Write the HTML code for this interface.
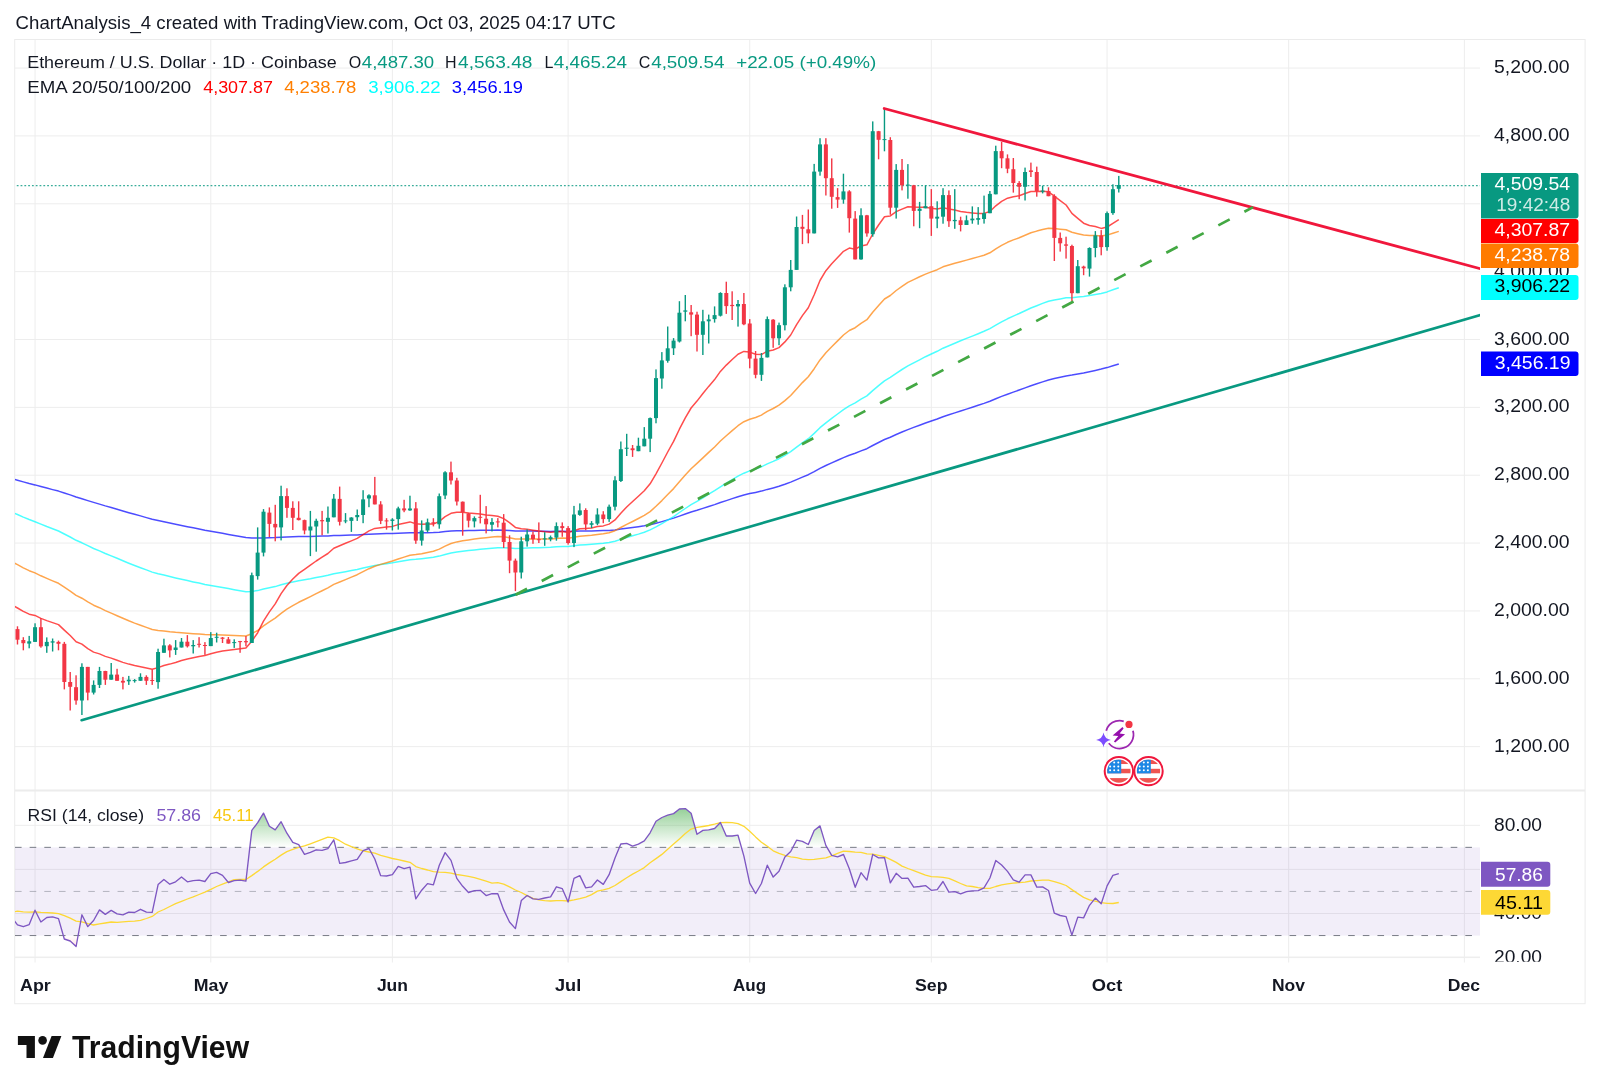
<!DOCTYPE html>
<html><head><meta charset="utf-8"><title>ETH/USD Chart</title>
<style>html,body{margin:0;padding:0;background:#fff;width:1600px;height:1092px;overflow:hidden}</style>
</head><body>
<svg width="1600" height="1092" viewBox="0 0 1600 1092" style="display:block;will-change:transform">
<defs>
<clipPath id="cm"><rect x="15" y="40" width="1465" height="750"/></clipPath>
<clipPath id="cr"><rect x="15" y="791.5" width="1465" height="165.5"/></clipPath>
<linearGradient id="gob" gradientUnits="userSpaceOnUse" x1="0" y1="781.2" x2="0" y2="847.35"><stop offset="0" stop-color="#4caf50" stop-opacity="1"/><stop offset="1" stop-color="#4caf50" stop-opacity="0"/></linearGradient>
<linearGradient id="gos" gradientUnits="userSpaceOnUse" x1="0" y1="935.5500000000001" x2="0" y2="1001.7"><stop offset="0" stop-color="#ff5252" stop-opacity="0"/><stop offset="1" stop-color="#ff5252" stop-opacity="1"/></linearGradient>
</defs>
<rect width="1600" height="1092" fill="#ffffff"/>
<rect x="14.7" y="39.5" width="1570.4" height="964.2" fill="#ffffff" stroke="#ebebeb" stroke-width="1"/>
<g stroke="#ededed" stroke-width="1"><line x1="15" y1="746.65" x2="1480" y2="746.65"/><line x1="15" y1="678.79" x2="1480" y2="678.79"/><line x1="15" y1="610.93" x2="1480" y2="610.93"/><line x1="15" y1="543.07" x2="1480" y2="543.07"/><line x1="15" y1="475.21" x2="1480" y2="475.21"/><line x1="15" y1="407.35" x2="1480" y2="407.35"/><line x1="15" y1="339.49" x2="1480" y2="339.49"/><line x1="15" y1="271.63" x2="1480" y2="271.63"/><line x1="15" y1="203.77" x2="1480" y2="203.77"/><line x1="15" y1="135.91" x2="1480" y2="135.91"/><line x1="15" y1="68.05" x2="1480" y2="68.05"/><line x1="15" y1="825.30" x2="1480" y2="825.30"/><line x1="15" y1="869.40" x2="1480" y2="869.40"/><line x1="15" y1="913.50" x2="1480" y2="913.50"/><line x1="15" y1="957.60" x2="1480" y2="957.60"/><line x1="35.05" y1="40" x2="35.05" y2="962.5"/><line x1="210.79" y1="40" x2="210.79" y2="962.5"/><line x1="392.39" y1="40" x2="392.39" y2="962.5"/><line x1="568.13" y1="40" x2="568.13" y2="962.5"/><line x1="749.73" y1="40" x2="749.73" y2="962.5"/><line x1="931.32" y1="40" x2="931.32" y2="962.5"/><line x1="1107.06" y1="40" x2="1107.06" y2="962.5"/><line x1="1288.66" y1="40" x2="1288.66" y2="962.5"/><line x1="1464.40" y1="40" x2="1464.40" y2="962.5"/></g>
<rect x="15" y="789.5" width="1570" height="2" fill="#ececec"/>
<line x1="15" y1="957" x2="1480" y2="957" stroke="#eeeeee" stroke-width="1"/>
<g clip-path="url(#cm)">
<path d="M11.6,478.6 L17.5,480.2 L23.3,481.9 L29.2,483.5 L35.0,484.9 L40.9,486.5 L46.8,488.0 L52.6,489.6 L58.5,491.1 L64.3,493.0 L70.2,494.9 L76.1,497.0 L81.9,498.7 L87.8,500.6 L93.6,502.4 L99.5,504.1 L105.3,505.9 L111.2,507.5 L117.1,509.3 L122.9,511.0 L128.8,512.7 L134.6,514.3 L140.5,515.9 L146.4,517.6 L152.2,519.2 L158.1,520.5 L163.9,521.8 L169.8,523.1 L175.6,524.3 L181.5,525.5 L187.4,526.7 L193.2,527.8 L199.1,529.0 L204.9,530.2 L210.8,531.2 L216.6,532.3 L222.5,533.3 L228.4,534.4 L234.2,535.5 L240.1,536.6 L245.9,537.6 L251.8,538.0 L257.7,538.1 L263.5,537.9 L269.4,537.7 L275.2,537.6 L281.1,537.2 L286.9,536.9 L292.8,536.7 L298.7,536.6 L304.5,536.5 L310.4,536.4 L316.2,536.3 L322.1,536.1 L327.9,535.9 L333.8,535.6 L339.7,535.4 L345.5,535.3 L351.4,535.1 L357.2,534.9 L363.1,534.5 L369.0,534.2 L374.8,533.9 L380.7,533.7 L386.5,533.6 L392.4,533.5 L398.2,533.2 L404.1,533.0 L410.0,532.7 L415.8,532.8 L421.7,532.8 L427.5,532.7 L433.4,532.6 L439.3,532.2 L445.1,531.6 L451.0,531.1 L456.8,530.8 L462.7,530.7 L468.5,530.6 L474.4,530.4 L480.3,530.3 L486.1,530.2 L492.0,530.2 L497.8,530.1 L503.7,530.2 L509.5,530.5 L515.4,530.9 L521.3,531.0 L527.1,531.1 L533.0,531.1 L538.8,531.2 L544.7,531.3 L550.6,531.4 L556.4,531.3 L562.3,531.3 L568.1,531.4 L574.0,531.2 L579.8,531.0 L585.7,530.9 L591.6,530.9 L597.4,530.7 L603.3,530.6 L609.1,530.4 L615.0,529.9 L620.8,529.1 L626.7,528.2 L632.6,527.5 L638.4,526.7 L644.3,525.8 L650.1,524.7 L656.0,523.3 L661.9,521.6 L667.7,519.9 L673.6,518.1 L679.4,516.1 L685.3,514.0 L691.1,512.0 L697.0,510.3 L702.9,508.4 L708.7,506.5 L714.6,504.6 L720.4,502.5 L726.3,500.6 L732.2,498.6 L738.0,496.7 L743.9,495.0 L749.7,493.6 L755.6,492.4 L761.4,491.1 L767.3,489.4 L773.2,487.9 L779.0,486.3 L784.9,484.3 L790.7,482.1 L796.6,479.6 L802.4,477.1 L808.3,474.7 L814.2,471.7 L820.0,468.4 L825.9,465.5 L831.7,462.9 L837.6,460.2 L843.5,457.6 L849.3,455.2 L855.2,453.2 L861.0,450.9 L866.9,448.7 L872.7,445.5 L878.6,442.5 L884.5,439.5 L890.3,437.2 L896.2,434.5 L902.0,432.0 L907.9,429.6 L913.7,427.4 L919.6,425.2 L925.5,423.0 L931.3,421.0 L937.2,419.0 L943.0,416.7 L948.9,414.8 L954.8,412.9 L960.6,411.0 L966.5,409.1 L972.3,407.2 L978.2,405.3 L984.0,403.4 L989.9,401.3 L995.8,398.8 L1001.6,396.4 L1007.5,394.2 L1013.3,392.1 L1019.2,390.0 L1025.1,387.9 L1030.9,385.7 L1036.8,383.8 L1042.6,381.9 L1048.5,380.0 L1054.3,378.6 L1060.2,377.2 L1066.1,375.9 L1071.9,375.1 L1077.8,374.0 L1083.6,373.0 L1089.5,371.7 L1095.3,370.4 L1101.2,369.1 L1107.1,367.6 L1112.9,365.8 L1118.8,364.0" fill="none" stroke="#0000ff" stroke-opacity="0.7" stroke-width="1.5" stroke-linejoin="round"/>
<path d="M11.6,512.0 L17.5,514.5 L23.3,517.1 L29.2,519.5 L35.0,521.7 L40.9,524.1 L46.8,526.5 L52.6,528.7 L58.5,531.0 L64.3,534.0 L70.2,537.0 L76.1,540.3 L81.9,542.8 L87.8,545.7 L93.6,548.5 L99.5,550.9 L105.3,553.5 L111.2,555.9 L117.1,558.3 L122.9,560.8 L128.8,563.2 L134.6,565.5 L140.5,567.7 L146.4,569.9 L152.2,572.1 L158.1,573.7 L163.9,575.1 L169.8,576.6 L175.6,578.0 L181.5,579.3 L187.4,580.6 L193.2,581.9 L199.1,583.1 L204.9,584.4 L210.8,585.4 L216.6,586.4 L222.5,587.5 L228.4,588.6 L234.2,589.7 L240.1,590.7 L245.9,591.7 L251.8,591.4 L257.7,590.6 L263.5,589.0 L269.4,587.8 L275.2,586.6 L281.1,584.8 L286.9,583.2 L292.8,582.0 L298.7,580.7 L304.5,579.7 L310.4,578.7 L316.2,577.5 L322.1,576.4 L327.9,575.3 L333.8,573.7 L339.7,572.7 L345.5,571.7 L351.4,570.6 L357.2,569.5 L363.1,568.1 L369.0,566.7 L374.8,565.4 L380.7,564.6 L386.5,563.7 L392.4,562.8 L398.2,561.7 L404.1,560.7 L410.0,559.7 L415.8,559.3 L421.7,558.7 L427.5,558.0 L433.4,557.3 L439.3,556.1 L445.1,554.5 L451.0,553.0 L456.8,552.0 L462.7,551.2 L468.5,550.6 L474.4,550.0 L480.3,549.3 L486.1,548.8 L492.0,548.3 L497.8,547.8 L503.7,547.7 L509.5,547.9 L515.4,548.4 L521.3,548.3 L527.1,548.0 L533.0,547.8 L538.8,547.7 L544.7,547.5 L550.6,547.3 L556.4,546.8 L562.3,546.5 L568.1,546.4 L574.0,545.8 L579.8,545.1 L585.7,544.7 L591.6,544.2 L597.4,543.7 L603.3,543.2 L609.1,542.4 L615.0,541.2 L620.8,539.4 L626.7,537.6 L632.6,535.8 L638.4,534.1 L644.3,532.2 L650.1,529.9 L656.0,526.9 L661.9,523.6 L667.7,520.1 L673.6,516.6 L679.4,512.5 L685.3,508.5 L691.1,504.7 L697.0,501.3 L702.9,497.8 L708.7,494.2 L714.6,490.7 L720.4,486.8 L726.3,483.2 L732.2,479.7 L738.0,476.2 L743.9,473.2 L749.7,470.9 L755.6,469.0 L761.4,466.8 L767.3,463.9 L773.2,461.4 L779.0,458.7 L784.9,455.3 L790.7,451.7 L796.6,447.2 L802.4,442.9 L808.3,438.7 L814.2,433.4 L820.0,427.7 L825.9,422.8 L831.7,418.3 L837.6,414.0 L843.5,409.6 L849.3,405.8 L855.2,402.9 L861.0,399.2 L866.9,395.9 L872.7,390.6 L878.6,385.7 L884.5,380.8 L890.3,377.4 L896.2,373.3 L902.0,369.5 L907.9,365.9 L913.7,362.8 L919.6,359.8 L925.5,356.7 L931.3,354.0 L937.2,351.3 L943.0,348.2 L948.9,345.7 L954.8,343.2 L960.6,340.8 L966.5,338.4 L972.3,336.1 L978.2,333.7 L984.0,331.3 L989.9,328.6 L995.8,325.1 L1001.6,321.8 L1007.5,318.8 L1013.3,316.1 L1019.2,313.5 L1025.1,310.7 L1030.9,308.0 L1036.8,305.7 L1042.6,303.4 L1048.5,301.3 L1054.3,300.0 L1060.2,298.9 L1066.1,297.8 L1071.9,297.7 L1077.8,297.1 L1083.6,296.5 L1089.5,295.6 L1095.3,294.4 L1101.2,293.4 L1107.1,291.9 L1112.9,289.8 L1118.8,287.7" fill="none" stroke="#00ffff" stroke-opacity="0.7" stroke-width="1.5" stroke-linejoin="round"/>
<path d="M11.6,561.7 L17.5,564.7 L23.3,567.8 L29.2,570.7 L35.0,572.9 L40.9,575.8 L46.8,578.4 L52.6,580.9 L58.5,583.3 L64.3,587.2 L70.2,591.1 L76.1,595.4 L81.9,598.2 L87.8,601.9 L93.6,605.2 L99.5,607.7 L105.3,610.6 L111.2,613.1 L117.1,615.7 L122.9,618.3 L128.8,620.8 L134.6,623.1 L140.5,625.2 L146.4,627.4 L152.2,629.5 L158.1,630.4 L163.9,630.9 L169.8,631.7 L175.6,632.3 L181.5,632.7 L187.4,633.2 L193.2,633.7 L199.1,634.1 L204.9,634.6 L210.8,634.7 L216.6,634.8 L222.5,634.9 L228.4,635.3 L234.2,635.6 L240.1,635.8 L245.9,636.0 L251.8,633.7 L257.7,630.5 L263.5,625.8 L269.4,621.8 L275.2,618.1 L281.1,613.3 L286.9,609.2 L292.8,605.6 L298.7,602.3 L304.5,599.5 L310.4,596.6 L316.2,593.6 L322.1,590.8 L327.9,587.9 L333.8,584.4 L339.7,582.0 L345.5,579.6 L351.4,577.1 L357.2,574.7 L363.1,571.7 L369.0,568.7 L374.8,566.2 L380.7,564.4 L386.5,562.7 L392.4,561.0 L398.2,559.0 L404.1,557.1 L410.0,555.2 L415.8,554.6 L421.7,553.7 L427.5,552.4 L433.4,551.3 L439.3,549.1 L445.1,546.1 L451.0,543.5 L456.8,541.9 L462.7,540.7 L468.5,539.9 L474.4,539.1 L480.3,538.2 L486.1,537.7 L492.0,537.1 L497.8,536.5 L503.7,536.7 L509.5,537.7 L515.4,539.0 L521.3,539.1 L527.1,538.9 L533.0,538.9 L538.8,539.0 L544.7,539.0 L550.6,538.9 L556.4,538.4 L562.3,538.0 L568.1,538.2 L574.0,537.2 L579.8,536.2 L585.7,535.7 L591.6,535.2 L597.4,534.4 L603.3,533.8 L609.1,532.8 L615.0,530.7 L620.8,527.5 L626.7,524.4 L632.6,521.5 L638.4,518.5 L644.3,515.4 L650.1,511.6 L656.0,506.3 L661.9,500.6 L667.7,494.6 L673.6,488.6 L679.4,481.7 L685.3,475.0 L691.1,468.7 L697.0,463.4 L702.9,457.9 L708.7,452.4 L714.6,447.0 L720.4,441.0 L726.3,435.7 L732.2,430.6 L738.0,425.7 L743.9,421.7 L749.7,419.2 L755.6,417.5 L761.4,415.1 L767.3,411.4 L773.2,408.5 L779.0,405.2 L784.9,400.6 L790.7,395.5 L796.6,388.9 L802.4,382.6 L808.3,376.8 L814.2,368.7 L820.0,359.9 L825.9,352.8 L831.7,346.7 L837.6,340.9 L843.5,335.0 L849.3,330.5 L855.2,327.7 L861.0,323.3 L866.9,319.7 L872.7,312.3 L878.6,305.6 L884.5,299.0 L890.3,295.5 L896.2,290.5 L902.0,286.4 L907.9,282.4 L913.7,279.6 L919.6,276.8 L925.5,274.1 L931.3,271.9 L937.2,269.7 L943.0,266.8 L948.9,265.0 L954.8,263.2 L960.6,261.7 L966.5,260.1 L972.3,258.5 L978.2,256.9 L984.0,255.2 L989.9,252.8 L995.8,248.8 L1001.6,245.3 L1007.5,242.3 L1013.3,239.9 L1019.2,237.8 L1025.1,235.3 L1030.9,232.8 L1036.8,231.1 L1042.6,229.6 L1048.5,228.2 L1054.3,228.6 L1060.2,229.2 L1066.1,229.8 L1071.9,232.3 L1077.8,233.7 L1083.6,235.0 L1089.5,235.5 L1095.3,235.5 L1101.2,236.0 L1107.1,235.1 L1112.9,233.3 L1118.8,231.4" fill="none" stroke="#ff7f00" stroke-opacity="0.7" stroke-width="1.5" stroke-linejoin="round"/>
<path d="M11.6,604.6 L17.5,608.0 L23.3,611.3 L29.2,614.2 L35.0,615.4 L40.9,618.4 L46.8,620.6 L52.6,622.6 L58.5,624.6 L64.3,630.1 L70.2,635.5 L76.1,641.7 L81.9,644.1 L87.8,648.7 L93.6,652.1 L99.5,653.9 L105.3,656.4 L111.2,658.1 L117.1,660.3 L122.9,662.4 L128.8,664.1 L134.6,665.6 L140.5,666.7 L146.4,668.0 L152.2,669.2 L158.1,667.6 L163.9,665.5 L169.8,664.1 L175.6,662.5 L181.5,660.5 L187.4,659.1 L193.2,657.8 L199.1,656.5 L204.9,655.5 L210.8,653.8 L216.6,652.2 L222.5,650.9 L228.4,650.2 L234.2,649.5 L240.1,648.7 L245.9,648.1 L251.8,641.2 L257.7,632.7 L263.5,621.2 L269.4,611.9 L275.2,603.9 L281.1,593.6 L286.9,585.5 L292.8,579.0 L298.7,573.4 L304.5,569.3 L310.4,565.2 L316.2,561.0 L322.1,557.2 L327.9,553.5 L333.8,548.3 L339.7,545.7 L345.5,543.3 L351.4,540.9 L357.2,538.4 L363.1,534.7 L369.0,530.9 L374.8,528.4 L380.7,527.7 L386.5,527.1 L392.4,526.4 L398.2,524.6 L404.1,523.3 L410.0,521.9 L415.8,523.7 L421.7,524.3 L427.5,524.1 L433.4,524.1 L439.3,521.4 L445.1,516.7 L451.0,513.3 L456.8,512.2 L462.7,512.2 L468.5,513.0 L474.4,513.5 L480.3,513.9 L486.1,514.9 L492.0,515.5 L497.8,516.2 L503.7,518.6 L509.5,522.6 L515.4,527.4 L521.3,528.7 L527.1,529.3 L533.0,530.2 L538.8,531.1 L544.7,531.8 L550.6,532.3 L556.4,531.7 L562.3,531.4 L568.1,532.5 L574.0,530.8 L579.8,528.8 L585.7,528.4 L591.6,527.9 L597.4,526.6 L603.3,525.9 L609.1,524.1 L615.0,519.9 L620.8,513.2 L626.7,507.0 L632.6,501.5 L638.4,496.2 L644.3,490.8 L650.1,483.8 L656.0,473.8 L661.9,463.0 L667.7,452.0 L673.6,441.4 L679.4,429.2 L685.3,417.9 L691.1,408.0 L697.0,401.1 L702.9,393.5 L708.7,386.4 L714.6,379.6 L720.4,371.4 L726.3,365.1 L732.2,359.5 L738.0,354.2 L743.9,351.4 L749.7,352.1 L755.6,354.2 L761.4,354.6 L767.3,351.2 L773.2,350.0 L779.0,347.6 L784.9,341.9 L790.7,335.0 L796.6,324.7 L802.4,315.6 L808.3,307.8 L814.2,294.8 L820.0,280.5 L825.9,270.7 L831.7,263.7 L837.6,257.6 L843.5,251.3 L849.3,248.1 L855.2,249.2 L861.0,246.0 L866.9,244.8 L872.7,234.0 L878.6,225.0 L884.5,216.8 L890.3,215.9 L896.2,211.6 L902.0,209.1 L907.9,206.7 L913.7,207.1 L919.6,207.3 L925.5,207.2 L931.3,208.3 L937.2,209.1 L943.0,207.7 L948.9,209.0 L954.8,210.1 L960.6,211.5 L966.5,212.3 L972.3,212.9 L978.2,213.4 L984.0,213.4 L989.9,211.5 L995.8,205.8 L1001.6,201.3 L1007.5,198.2 L1013.3,196.7 L1019.2,195.8 L1025.1,193.5 L1030.9,191.5 L1036.8,191.4 L1042.6,191.3 L1048.5,191.8 L1054.3,196.2 L1060.2,200.7 L1066.1,205.0 L1071.9,213.4 L1077.8,218.4 L1083.6,223.2 L1089.5,225.5 L1095.3,226.5 L1101.2,228.4 L1107.1,227.0 L1112.9,223.4 L1118.8,219.7" fill="none" stroke="#ff0000" stroke-opacity="0.7" stroke-width="1.5" stroke-linejoin="round"/>
<line x1="15" y1="185.7" x2="1480" y2="185.7" stroke="#089981" stroke-opacity="0.8" stroke-width="1.2" stroke-dasharray="1.8 2.0" stroke-dashoffset="-1.76"/>
<rect x="16.78" y="626.3" width="1.4" height="18.2" fill="#f23645"/>
<rect x="15.48" y="629.1" width="4" height="10.6" fill="#f23645"/>
<rect x="22.63" y="637.2" width="1.4" height="13.1" fill="#f23645"/>
<rect x="21.33" y="640.0" width="4" height="3.2" fill="#f23645"/>
<rect x="28.49" y="635.9" width="1.4" height="12.4" fill="#089981"/>
<rect x="27.19" y="641.3" width="4" height="2.3" fill="#089981"/>
<rect x="34.35" y="623.3" width="1.4" height="18.6" fill="#089981"/>
<rect x="33.05" y="627.2" width="4" height="14.7" fill="#089981"/>
<rect x="40.21" y="618.0" width="1.4" height="29.7" fill="#f23645"/>
<rect x="38.91" y="627.2" width="4" height="19.2" fill="#f23645"/>
<rect x="46.07" y="637.4" width="1.4" height="15.4" fill="#089981"/>
<rect x="44.77" y="641.9" width="4" height="4.3" fill="#089981"/>
<rect x="51.92" y="638.5" width="1.4" height="13.0" fill="#089981"/>
<rect x="50.62" y="641.3" width="4" height="1.3" fill="#089981"/>
<rect x="57.78" y="640.6" width="1.4" height="9.7" fill="#f23645"/>
<rect x="56.48" y="641.9" width="4" height="1.9" fill="#f23645"/>
<rect x="63.64" y="641.9" width="1.4" height="47.5" fill="#f23645"/>
<rect x="62.34" y="643.8" width="4" height="38.2" fill="#f23645"/>
<rect x="69.50" y="672.0" width="1.4" height="38.5" fill="#f23645"/>
<rect x="68.20" y="682.0" width="4" height="4.8" fill="#f23645"/>
<rect x="75.36" y="675.3" width="1.4" height="29.4" fill="#f23645"/>
<rect x="74.06" y="687.2" width="4" height="13.3" fill="#f23645"/>
<rect x="81.21" y="663.3" width="1.4" height="51.7" fill="#089981"/>
<rect x="79.91" y="666.9" width="4" height="33.6" fill="#089981"/>
<rect x="87.07" y="666.9" width="1.4" height="33.4" fill="#f23645"/>
<rect x="85.77" y="666.9" width="4" height="25.7" fill="#f23645"/>
<rect x="92.93" y="680.4" width="1.4" height="14.1" fill="#089981"/>
<rect x="91.63" y="684.9" width="4" height="7.7" fill="#089981"/>
<rect x="98.79" y="666.9" width="1.4" height="21.1" fill="#089981"/>
<rect x="97.49" y="671.0" width="4" height="13.9" fill="#089981"/>
<rect x="104.65" y="670.8" width="1.4" height="14.1" fill="#f23645"/>
<rect x="103.35" y="671.0" width="4" height="8.7" fill="#f23645"/>
<rect x="110.50" y="663.0" width="1.4" height="16.7" fill="#089981"/>
<rect x="109.20" y="674.6" width="4" height="5.1" fill="#089981"/>
<rect x="116.36" y="668.8" width="1.4" height="12.0" fill="#f23645"/>
<rect x="115.06" y="674.6" width="4" height="6.2" fill="#f23645"/>
<rect x="122.22" y="676.9" width="1.4" height="12.5" fill="#f23645"/>
<rect x="120.92" y="680.8" width="4" height="1.8" fill="#f23645"/>
<rect x="128.08" y="675.9" width="1.4" height="9.0" fill="#089981"/>
<rect x="126.78" y="679.7" width="4" height="1.6" fill="#089981"/>
<rect x="133.94" y="679.1" width="1.4" height="3.5" fill="#089981"/>
<rect x="132.64" y="680.1" width="4" height="1.0" fill="#089981"/>
<rect x="139.79" y="673.3" width="1.4" height="7.5" fill="#089981"/>
<rect x="138.49" y="676.9" width="4" height="3.9" fill="#089981"/>
<rect x="145.65" y="675.3" width="1.4" height="9.6" fill="#f23645"/>
<rect x="144.35" y="676.9" width="4" height="3.9" fill="#f23645"/>
<rect x="151.51" y="669.5" width="1.4" height="15.4" fill="#f23645"/>
<rect x="150.21" y="680.0" width="4" height="1.0" fill="#f23645"/>
<rect x="157.37" y="648.7" width="1.4" height="40.0" fill="#089981"/>
<rect x="156.07" y="652.0" width="4" height="30.1" fill="#089981"/>
<rect x="163.23" y="638.7" width="1.4" height="14.1" fill="#089981"/>
<rect x="161.93" y="645.4" width="4" height="7.4" fill="#089981"/>
<rect x="169.08" y="644.2" width="1.4" height="13.2" fill="#f23645"/>
<rect x="167.78" y="645.4" width="4" height="5.0" fill="#f23645"/>
<rect x="174.94" y="640.1" width="1.4" height="14.8" fill="#089981"/>
<rect x="173.64" y="647.5" width="4" height="2.5" fill="#089981"/>
<rect x="180.80" y="638.0" width="1.4" height="9.5" fill="#089981"/>
<rect x="179.50" y="641.7" width="4" height="5.8" fill="#089981"/>
<rect x="186.66" y="635.1" width="1.4" height="12.4" fill="#f23645"/>
<rect x="185.36" y="641.7" width="4" height="4.6" fill="#f23645"/>
<rect x="192.52" y="640.1" width="1.4" height="13.4" fill="#089981"/>
<rect x="191.22" y="645.0" width="4" height="1.3" fill="#089981"/>
<rect x="198.37" y="637.2" width="1.4" height="10.3" fill="#f23645"/>
<rect x="197.07" y="643.8" width="4" height="1.0" fill="#f23645"/>
<rect x="204.23" y="642.1" width="1.4" height="12.8" fill="#f23645"/>
<rect x="202.93" y="645.0" width="4" height="1.0" fill="#f23645"/>
<rect x="210.09" y="632.1" width="1.4" height="14.0" fill="#089981"/>
<rect x="208.79" y="638.0" width="4" height="8.1" fill="#089981"/>
<rect x="215.95" y="632.7" width="1.4" height="9.8" fill="#089981"/>
<rect x="214.65" y="636.8" width="4" height="1.0" fill="#089981"/>
<rect x="221.81" y="637.0" width="1.4" height="6.0" fill="#f23645"/>
<rect x="220.51" y="637.6" width="4" height="1.2" fill="#f23645"/>
<rect x="227.66" y="637.0" width="1.4" height="6.6" fill="#f23645"/>
<rect x="226.36" y="639.3" width="4" height="4.3" fill="#f23645"/>
<rect x="233.52" y="639.3" width="1.4" height="8.6" fill="#089981"/>
<rect x="232.22" y="642.1" width="4" height="1.0" fill="#089981"/>
<rect x="239.38" y="640.9" width="1.4" height="11.9" fill="#f23645"/>
<rect x="238.08" y="641.1" width="4" height="1.0" fill="#f23645"/>
<rect x="245.24" y="636.0" width="1.4" height="10.3" fill="#f23645"/>
<rect x="243.94" y="641.1" width="4" height="1.2" fill="#f23645"/>
<rect x="251.10" y="572.6" width="1.4" height="70.4" fill="#089981"/>
<rect x="249.80" y="575.2" width="4" height="67.8" fill="#089981"/>
<rect x="256.95" y="527.4" width="1.4" height="52.2" fill="#089981"/>
<rect x="255.65" y="552.6" width="4" height="23.5" fill="#089981"/>
<rect x="262.81" y="509.1" width="1.4" height="47.3" fill="#089981"/>
<rect x="261.51" y="511.7" width="4" height="40.9" fill="#089981"/>
<rect x="268.67" y="507.4" width="1.4" height="29.6" fill="#f23645"/>
<rect x="267.37" y="512.6" width="4" height="11.3" fill="#f23645"/>
<rect x="274.53" y="504.8" width="1.4" height="36.5" fill="#f23645"/>
<rect x="273.23" y="523.9" width="4" height="3.5" fill="#f23645"/>
<rect x="280.39" y="485.7" width="1.4" height="54.7" fill="#089981"/>
<rect x="279.09" y="496.1" width="4" height="31.3" fill="#089981"/>
<rect x="286.24" y="488.3" width="1.4" height="29.5" fill="#f23645"/>
<rect x="284.94" y="496.1" width="4" height="11.8" fill="#f23645"/>
<rect x="292.10" y="501.3" width="1.4" height="28.7" fill="#f23645"/>
<rect x="290.80" y="507.9" width="4" height="9.9" fill="#f23645"/>
<rect x="297.96" y="501.3" width="1.4" height="19.1" fill="#f23645"/>
<rect x="296.66" y="517.8" width="4" height="2.3" fill="#f23645"/>
<rect x="303.82" y="519.6" width="1.4" height="14.7" fill="#f23645"/>
<rect x="302.52" y="520.1" width="4" height="10.4" fill="#f23645"/>
<rect x="309.68" y="510.9" width="1.4" height="45.2" fill="#089981"/>
<rect x="308.38" y="526.5" width="4" height="4.0" fill="#089981"/>
<rect x="315.53" y="518.7" width="1.4" height="33.0" fill="#089981"/>
<rect x="314.23" y="520.8" width="4" height="5.7" fill="#089981"/>
<rect x="321.39" y="510.9" width="1.4" height="24.3" fill="#f23645"/>
<rect x="320.09" y="520.1" width="4" height="1.2" fill="#f23645"/>
<rect x="327.25" y="506.5" width="1.4" height="27.0" fill="#089981"/>
<rect x="325.95" y="517.8" width="4" height="4.0" fill="#089981"/>
<rect x="333.11" y="494.0" width="1.4" height="23.3" fill="#089981"/>
<rect x="331.81" y="498.7" width="4" height="18.6" fill="#089981"/>
<rect x="338.97" y="486.6" width="1.4" height="38.9" fill="#f23645"/>
<rect x="337.67" y="498.9" width="4" height="22.9" fill="#f23645"/>
<rect x="344.82" y="513.1" width="1.4" height="10.1" fill="#089981"/>
<rect x="343.52" y="520.4" width="4" height="1.0" fill="#089981"/>
<rect x="350.68" y="517.2" width="1.4" height="14.7" fill="#089981"/>
<rect x="349.38" y="517.5" width="4" height="3.4" fill="#089981"/>
<rect x="356.54" y="509.5" width="1.4" height="11.4" fill="#089981"/>
<rect x="355.24" y="515.0" width="4" height="2.2" fill="#089981"/>
<rect x="362.40" y="490.2" width="1.4" height="33.0" fill="#089981"/>
<rect x="361.10" y="499.4" width="4" height="15.6" fill="#089981"/>
<rect x="368.26" y="494.3" width="1.4" height="12.9" fill="#089981"/>
<rect x="366.96" y="495.3" width="4" height="3.2" fill="#089981"/>
<rect x="374.11" y="476.9" width="1.4" height="27.5" fill="#f23645"/>
<rect x="372.81" y="495.3" width="4" height="9.1" fill="#f23645"/>
<rect x="379.97" y="501.2" width="1.4" height="22.9" fill="#f23645"/>
<rect x="378.67" y="504.4" width="4" height="16.5" fill="#f23645"/>
<rect x="385.83" y="518.2" width="1.4" height="11.4" fill="#f23645"/>
<rect x="384.53" y="520.4" width="4" height="1.0" fill="#f23645"/>
<rect x="391.69" y="518.2" width="1.4" height="12.3" fill="#089981"/>
<rect x="390.39" y="519.5" width="4" height="1.4" fill="#089981"/>
<rect x="397.55" y="506.7" width="1.4" height="22.9" fill="#089981"/>
<rect x="396.25" y="508.4" width="4" height="10.7" fill="#089981"/>
<rect x="403.40" y="499.8" width="1.4" height="12.4" fill="#f23645"/>
<rect x="402.10" y="508.4" width="4" height="2.0" fill="#f23645"/>
<rect x="409.26" y="495.7" width="1.4" height="15.1" fill="#089981"/>
<rect x="407.96" y="508.5" width="4" height="1.9" fill="#089981"/>
<rect x="415.12" y="502.1" width="1.4" height="41.7" fill="#f23645"/>
<rect x="413.82" y="508.4" width="4" height="32.2" fill="#f23645"/>
<rect x="420.98" y="520.4" width="1.4" height="25.2" fill="#089981"/>
<rect x="419.68" y="530.5" width="4" height="10.1" fill="#089981"/>
<rect x="426.84" y="518.6" width="1.4" height="13.7" fill="#089981"/>
<rect x="425.54" y="522.3" width="4" height="8.2" fill="#089981"/>
<rect x="432.69" y="518.2" width="1.4" height="8.2" fill="#f23645"/>
<rect x="431.39" y="522.3" width="4" height="1.3" fill="#f23645"/>
<rect x="438.55" y="493.5" width="1.4" height="35.2" fill="#089981"/>
<rect x="437.25" y="496.2" width="4" height="28.1" fill="#089981"/>
<rect x="444.41" y="471.2" width="1.4" height="27.9" fill="#089981"/>
<rect x="443.11" y="472.3" width="4" height="23.2" fill="#089981"/>
<rect x="450.27" y="461.6" width="1.4" height="22.9" fill="#f23645"/>
<rect x="448.97" y="472.3" width="4" height="8.2" fill="#f23645"/>
<rect x="456.13" y="477.8" width="1.4" height="27.7" fill="#f23645"/>
<rect x="454.83" y="480.5" width="4" height="21.0" fill="#f23645"/>
<rect x="461.98" y="501.5" width="1.4" height="34.2" fill="#f23645"/>
<rect x="460.68" y="501.7" width="4" height="10.4" fill="#f23645"/>
<rect x="467.84" y="512.8" width="1.4" height="14.6" fill="#f23645"/>
<rect x="466.54" y="513.4" width="4" height="7.3" fill="#f23645"/>
<rect x="473.70" y="516.4" width="1.4" height="11.0" fill="#089981"/>
<rect x="472.40" y="518.1" width="4" height="3.3" fill="#089981"/>
<rect x="479.56" y="494.8" width="1.4" height="28.6" fill="#f23645"/>
<rect x="478.26" y="516.8" width="4" height="1.0" fill="#f23645"/>
<rect x="485.42" y="506.1" width="1.4" height="27.3" fill="#f23645"/>
<rect x="484.12" y="518.7" width="4" height="5.6" fill="#f23645"/>
<rect x="491.27" y="518.1" width="1.4" height="13.3" fill="#089981"/>
<rect x="489.97" y="522.1" width="4" height="2.6" fill="#089981"/>
<rect x="497.13" y="518.1" width="1.4" height="9.3" fill="#f23645"/>
<rect x="495.83" y="521.4" width="4" height="1.0" fill="#f23645"/>
<rect x="502.99" y="514.1" width="1.4" height="33.9" fill="#f23645"/>
<rect x="501.69" y="522.7" width="4" height="19.3" fill="#f23645"/>
<rect x="508.85" y="535.3" width="1.4" height="37.9" fill="#f23645"/>
<rect x="507.55" y="542.0" width="4" height="18.6" fill="#f23645"/>
<rect x="514.71" y="558.6" width="1.4" height="32.5" fill="#f23645"/>
<rect x="513.41" y="560.6" width="4" height="11.9" fill="#f23645"/>
<rect x="520.56" y="536.7" width="1.4" height="41.8" fill="#089981"/>
<rect x="519.26" y="541.3" width="4" height="31.2" fill="#089981"/>
<rect x="526.42" y="529.4" width="1.4" height="17.2" fill="#089981"/>
<rect x="525.12" y="534.5" width="4" height="6.8" fill="#089981"/>
<rect x="532.28" y="531.4" width="1.4" height="12.4" fill="#f23645"/>
<rect x="530.98" y="534.7" width="4" height="4.5" fill="#f23645"/>
<rect x="538.14" y="522.4" width="1.4" height="20.6" fill="#f23645"/>
<rect x="536.84" y="539.2" width="4" height="1.0" fill="#f23645"/>
<rect x="544.00" y="532.2" width="1.4" height="13.6" fill="#089981"/>
<rect x="542.70" y="538.4" width="4" height="1.0" fill="#089981"/>
<rect x="549.85" y="535.5" width="1.4" height="5.8" fill="#089981"/>
<rect x="548.55" y="537.2" width="4" height="2.0" fill="#089981"/>
<rect x="555.71" y="522.4" width="1.4" height="18.3" fill="#089981"/>
<rect x="554.41" y="526.1" width="4" height="11.5" fill="#089981"/>
<rect x="561.57" y="522.4" width="1.4" height="14.4" fill="#f23645"/>
<rect x="560.27" y="526.1" width="4" height="2.0" fill="#f23645"/>
<rect x="567.43" y="526.1" width="1.4" height="18.5" fill="#f23645"/>
<rect x="566.13" y="528.1" width="4" height="14.9" fill="#f23645"/>
<rect x="573.29" y="505.9" width="1.4" height="41.2" fill="#089981"/>
<rect x="571.99" y="514.5" width="4" height="28.5" fill="#089981"/>
<rect x="579.14" y="503.4" width="1.4" height="12.4" fill="#089981"/>
<rect x="577.84" y="510.4" width="4" height="4.5" fill="#089981"/>
<rect x="585.00" y="508.3" width="1.4" height="21.9" fill="#f23645"/>
<rect x="583.70" y="510.0" width="4" height="14.4" fill="#f23645"/>
<rect x="590.86" y="521.1" width="1.4" height="7.0" fill="#089981"/>
<rect x="589.56" y="523.2" width="4" height="1.6" fill="#089981"/>
<rect x="596.72" y="508.3" width="1.4" height="16.9" fill="#089981"/>
<rect x="595.42" y="514.5" width="4" height="9.1" fill="#089981"/>
<rect x="602.58" y="511.2" width="1.4" height="12.0" fill="#f23645"/>
<rect x="601.28" y="514.5" width="4" height="4.6" fill="#f23645"/>
<rect x="608.43" y="504.6" width="1.4" height="17.3" fill="#089981"/>
<rect x="607.13" y="506.7" width="4" height="12.4" fill="#089981"/>
<rect x="614.29" y="476.2" width="1.4" height="34.2" fill="#089981"/>
<rect x="612.99" y="480.3" width="4" height="26.4" fill="#089981"/>
<rect x="620.15" y="441.5" width="1.4" height="40.5" fill="#089981"/>
<rect x="618.85" y="449.2" width="4" height="31.8" fill="#089981"/>
<rect x="626.01" y="433.8" width="1.4" height="22.2" fill="#089981"/>
<rect x="624.71" y="447.7" width="4" height="1.1" fill="#089981"/>
<rect x="631.87" y="445.0" width="1.4" height="11.9" fill="#f23645"/>
<rect x="630.57" y="448.3" width="4" height="1.9" fill="#f23645"/>
<rect x="637.72" y="437.7" width="1.4" height="13.5" fill="#089981"/>
<rect x="636.42" y="445.8" width="4" height="5.4" fill="#089981"/>
<rect x="643.58" y="427.1" width="1.4" height="19.2" fill="#089981"/>
<rect x="642.28" y="438.7" width="4" height="7.6" fill="#089981"/>
<rect x="649.44" y="417.5" width="1.4" height="34.6" fill="#089981"/>
<rect x="648.14" y="418.1" width="4" height="20.6" fill="#089981"/>
<rect x="655.30" y="369.4" width="1.4" height="53.9" fill="#089981"/>
<rect x="654.00" y="378.1" width="4" height="40.0" fill="#089981"/>
<rect x="661.16" y="352.1" width="1.4" height="36.6" fill="#089981"/>
<rect x="659.86" y="360.4" width="4" height="18.1" fill="#089981"/>
<rect x="667.01" y="326.5" width="1.4" height="36.2" fill="#089981"/>
<rect x="665.71" y="348.3" width="4" height="12.5" fill="#089981"/>
<rect x="672.87" y="338.1" width="1.4" height="16.9" fill="#089981"/>
<rect x="671.57" y="340.6" width="4" height="7.7" fill="#089981"/>
<rect x="678.73" y="301.2" width="1.4" height="41.3" fill="#089981"/>
<rect x="677.43" y="312.7" width="4" height="28.8" fill="#089981"/>
<rect x="684.59" y="295.0" width="1.4" height="26.3" fill="#089981"/>
<rect x="683.29" y="310.4" width="4" height="1.3" fill="#089981"/>
<rect x="690.45" y="305.0" width="1.4" height="31.2" fill="#f23645"/>
<rect x="689.15" y="312.3" width="4" height="2.3" fill="#f23645"/>
<rect x="696.30" y="311.7" width="1.4" height="39.8" fill="#f23645"/>
<rect x="695.00" y="314.6" width="4" height="20.2" fill="#f23645"/>
<rect x="702.16" y="309.8" width="1.4" height="45.2" fill="#089981"/>
<rect x="700.86" y="321.3" width="4" height="13.5" fill="#089981"/>
<rect x="708.02" y="314.6" width="1.4" height="28.9" fill="#089981"/>
<rect x="706.72" y="319.4" width="4" height="1.9" fill="#089981"/>
<rect x="713.88" y="306.4" width="1.4" height="16.2" fill="#089981"/>
<rect x="712.58" y="315.1" width="4" height="4.0" fill="#089981"/>
<rect x="719.74" y="292.2" width="1.4" height="24.3" fill="#089981"/>
<rect x="718.44" y="293.0" width="4" height="22.7" fill="#089981"/>
<rect x="725.59" y="281.7" width="1.4" height="32.2" fill="#f23645"/>
<rect x="724.29" y="293.0" width="4" height="13.1" fill="#f23645"/>
<rect x="731.45" y="291.3" width="1.4" height="28.7" fill="#f23645"/>
<rect x="730.15" y="304.9" width="4" height="1.2" fill="#f23645"/>
<rect x="737.31" y="300.0" width="1.4" height="26.6" fill="#089981"/>
<rect x="736.01" y="304.0" width="4" height="2.4" fill="#089981"/>
<rect x="743.17" y="293.0" width="1.4" height="32.2" fill="#f23645"/>
<rect x="741.87" y="304.0" width="4" height="20.3" fill="#f23645"/>
<rect x="749.03" y="319.1" width="1.4" height="49.2" fill="#f23645"/>
<rect x="747.73" y="323.5" width="4" height="35.1" fill="#f23645"/>
<rect x="754.88" y="351.0" width="1.4" height="27.3" fill="#f23645"/>
<rect x="753.58" y="358.6" width="4" height="16.2" fill="#f23645"/>
<rect x="760.74" y="353.0" width="1.4" height="27.9" fill="#089981"/>
<rect x="759.44" y="357.9" width="4" height="16.9" fill="#089981"/>
<rect x="766.60" y="316.5" width="1.4" height="40.9" fill="#089981"/>
<rect x="765.30" y="319.1" width="4" height="38.3" fill="#089981"/>
<rect x="772.46" y="319.1" width="1.4" height="28.7" fill="#f23645"/>
<rect x="771.16" y="319.7" width="4" height="18.6" fill="#f23645"/>
<rect x="778.32" y="322.6" width="1.4" height="22.6" fill="#089981"/>
<rect x="777.02" y="325.2" width="4" height="13.1" fill="#089981"/>
<rect x="784.17" y="284.3" width="1.4" height="46.1" fill="#089981"/>
<rect x="782.87" y="287.3" width="4" height="37.9" fill="#089981"/>
<rect x="790.03" y="260.0" width="1.4" height="31.3" fill="#089981"/>
<rect x="788.73" y="269.9" width="4" height="17.4" fill="#089981"/>
<rect x="795.89" y="216.5" width="1.4" height="53.4" fill="#089981"/>
<rect x="794.59" y="227.0" width="4" height="42.9" fill="#089981"/>
<rect x="801.75" y="214.9" width="1.4" height="29.2" fill="#f23645"/>
<rect x="800.45" y="226.8" width="4" height="2.0" fill="#f23645"/>
<rect x="807.61" y="209.5" width="1.4" height="33.8" fill="#f23645"/>
<rect x="806.31" y="229.3" width="4" height="4.1" fill="#f23645"/>
<rect x="813.46" y="163.9" width="1.4" height="69.5" fill="#089981"/>
<rect x="812.16" y="171.6" width="4" height="61.8" fill="#089981"/>
<rect x="819.32" y="138.2" width="1.4" height="37.5" fill="#089981"/>
<rect x="818.02" y="144.4" width="4" height="27.2" fill="#089981"/>
<rect x="825.18" y="138.2" width="1.4" height="57.3" fill="#f23645"/>
<rect x="823.88" y="144.4" width="4" height="33.8" fill="#f23645"/>
<rect x="831.04" y="158.4" width="1.4" height="50.3" fill="#f23645"/>
<rect x="829.74" y="178.2" width="4" height="18.6" fill="#f23645"/>
<rect x="836.90" y="188.1" width="1.4" height="19.8" fill="#f23645"/>
<rect x="835.60" y="197.1" width="4" height="2.5" fill="#f23645"/>
<rect x="842.75" y="173.7" width="1.4" height="30.0" fill="#089981"/>
<rect x="841.45" y="191.4" width="4" height="8.2" fill="#089981"/>
<rect x="848.61" y="190.2" width="1.4" height="42.4" fill="#f23645"/>
<rect x="847.31" y="191.4" width="4" height="26.8" fill="#f23645"/>
<rect x="854.47" y="211.1" width="1.4" height="48.3" fill="#f23645"/>
<rect x="853.17" y="218.6" width="4" height="40.8" fill="#f23645"/>
<rect x="860.33" y="208.3" width="1.4" height="51.4" fill="#089981"/>
<rect x="859.03" y="215.3" width="4" height="44.1" fill="#089981"/>
<rect x="866.19" y="214.9" width="1.4" height="21.8" fill="#f23645"/>
<rect x="864.89" y="215.3" width="4" height="18.1" fill="#f23645"/>
<rect x="872.04" y="121.4" width="1.4" height="115.3" fill="#089981"/>
<rect x="870.74" y="131.2" width="4" height="103.0" fill="#089981"/>
<rect x="877.90" y="130.9" width="1.4" height="28.4" fill="#f23645"/>
<rect x="876.60" y="131.2" width="4" height="8.6" fill="#f23645"/>
<rect x="883.76" y="108.3" width="1.4" height="43.0" fill="#089981"/>
<rect x="882.46" y="139.1" width="4" height="1.0" fill="#089981"/>
<rect x="889.62" y="137.2" width="1.4" height="77.5" fill="#f23645"/>
<rect x="888.32" y="140.0" width="4" height="67.7" fill="#f23645"/>
<rect x="895.48" y="164.1" width="1.4" height="54.5" fill="#089981"/>
<rect x="894.18" y="169.9" width="4" height="37.8" fill="#089981"/>
<rect x="901.33" y="159.0" width="1.4" height="31.4" fill="#f23645"/>
<rect x="900.03" y="169.9" width="4" height="15.4" fill="#f23645"/>
<rect x="907.19" y="164.1" width="1.4" height="34.6" fill="#089981"/>
<rect x="905.89" y="184.6" width="4" height="1.0" fill="#089981"/>
<rect x="913.05" y="184.9" width="1.4" height="41.4" fill="#f23645"/>
<rect x="911.75" y="185.3" width="4" height="25.6" fill="#f23645"/>
<rect x="918.91" y="201.9" width="1.4" height="26.3" fill="#089981"/>
<rect x="917.61" y="208.7" width="4" height="2.2" fill="#089981"/>
<rect x="924.77" y="185.3" width="1.4" height="23.0" fill="#089981"/>
<rect x="923.47" y="206.2" width="4" height="2.1" fill="#089981"/>
<rect x="930.62" y="189.1" width="1.4" height="46.8" fill="#f23645"/>
<rect x="929.32" y="206.2" width="4" height="12.4" fill="#f23645"/>
<rect x="936.48" y="201.3" width="1.4" height="26.9" fill="#089981"/>
<rect x="935.18" y="216.7" width="4" height="1.9" fill="#089981"/>
<rect x="942.34" y="188.2" width="1.4" height="35.5" fill="#089981"/>
<rect x="941.04" y="195.1" width="4" height="21.6" fill="#089981"/>
<rect x="948.20" y="190.4" width="1.4" height="36.5" fill="#f23645"/>
<rect x="946.90" y="195.1" width="4" height="26.1" fill="#f23645"/>
<rect x="954.06" y="189.1" width="1.4" height="39.7" fill="#089981"/>
<rect x="952.76" y="219.9" width="4" height="1.3" fill="#089981"/>
<rect x="959.91" y="216.7" width="1.4" height="14.7" fill="#f23645"/>
<rect x="958.61" y="220.3" width="4" height="4.7" fill="#f23645"/>
<rect x="965.77" y="215.4" width="1.4" height="9.6" fill="#089981"/>
<rect x="964.47" y="220.3" width="4" height="4.7" fill="#089981"/>
<rect x="971.63" y="206.4" width="1.4" height="17.3" fill="#089981"/>
<rect x="970.33" y="218.6" width="4" height="1.7" fill="#089981"/>
<rect x="977.49" y="207.1" width="1.4" height="17.6" fill="#089981"/>
<rect x="976.19" y="218.1" width="4" height="1.7" fill="#089981"/>
<rect x="983.35" y="195.6" width="1.4" height="28.0" fill="#089981"/>
<rect x="982.05" y="213.2" width="4" height="5.8" fill="#089981"/>
<rect x="989.20" y="191.0" width="1.4" height="22.2" fill="#089981"/>
<rect x="987.90" y="193.9" width="4" height="19.3" fill="#089981"/>
<rect x="995.06" y="145.7" width="1.4" height="48.6" fill="#089981"/>
<rect x="993.76" y="151.1" width="4" height="43.2" fill="#089981"/>
<rect x="1000.92" y="141.9" width="1.4" height="26.3" fill="#f23645"/>
<rect x="999.62" y="151.1" width="4" height="7.2" fill="#f23645"/>
<rect x="1006.78" y="154.4" width="1.4" height="18.8" fill="#f23645"/>
<rect x="1005.48" y="158.3" width="4" height="10.4" fill="#f23645"/>
<rect x="1012.64" y="158.0" width="1.4" height="34.6" fill="#f23645"/>
<rect x="1011.34" y="169.2" width="4" height="13.8" fill="#f23645"/>
<rect x="1018.49" y="181.1" width="1.4" height="18.1" fill="#f23645"/>
<rect x="1017.19" y="183.0" width="4" height="3.8" fill="#f23645"/>
<rect x="1024.35" y="167.6" width="1.4" height="32.9" fill="#089981"/>
<rect x="1023.05" y="172.0" width="4" height="14.8" fill="#089981"/>
<rect x="1030.21" y="162.6" width="1.4" height="14.4" fill="#f23645"/>
<rect x="1028.91" y="170.4" width="4" height="1.6" fill="#f23645"/>
<rect x="1036.07" y="166.6" width="1.4" height="30.1" fill="#f23645"/>
<rect x="1034.77" y="172.0" width="4" height="19.0" fill="#f23645"/>
<rect x="1041.93" y="185.7" width="1.4" height="7.7" fill="#089981"/>
<rect x="1040.63" y="190.6" width="4" height="1.2" fill="#089981"/>
<rect x="1047.78" y="187.3" width="1.4" height="8.9" fill="#f23645"/>
<rect x="1046.48" y="191.0" width="4" height="5.2" fill="#f23645"/>
<rect x="1053.64" y="194.3" width="1.4" height="66.7" fill="#f23645"/>
<rect x="1052.34" y="195.9" width="4" height="42.0" fill="#f23645"/>
<rect x="1059.50" y="232.5" width="1.4" height="19.1" fill="#f23645"/>
<rect x="1058.20" y="237.9" width="4" height="5.4" fill="#f23645"/>
<rect x="1065.36" y="236.7" width="1.4" height="21.9" fill="#f23645"/>
<rect x="1064.06" y="244.4" width="4" height="1.3" fill="#f23645"/>
<rect x="1071.22" y="244.7" width="1.4" height="56.4" fill="#f23645"/>
<rect x="1069.92" y="246.0" width="4" height="47.2" fill="#f23645"/>
<rect x="1077.07" y="260.0" width="1.4" height="33.2" fill="#089981"/>
<rect x="1075.77" y="266.2" width="4" height="27.0" fill="#089981"/>
<rect x="1082.93" y="265.7" width="1.4" height="9.5" fill="#f23645"/>
<rect x="1081.63" y="266.6" width="4" height="1.7" fill="#f23645"/>
<rect x="1088.79" y="247.3" width="1.4" height="29.3" fill="#089981"/>
<rect x="1087.49" y="248.0" width="4" height="20.6" fill="#089981"/>
<rect x="1094.65" y="231.1" width="1.4" height="26.2" fill="#089981"/>
<rect x="1093.35" y="235.4" width="4" height="12.6" fill="#089981"/>
<rect x="1100.51" y="230.1" width="1.4" height="25.2" fill="#f23645"/>
<rect x="1099.21" y="235.4" width="4" height="11.7" fill="#f23645"/>
<rect x="1106.36" y="211.5" width="1.4" height="39.2" fill="#089981"/>
<rect x="1105.06" y="213.1" width="4" height="34.0" fill="#089981"/>
<rect x="1112.22" y="184.3" width="1.4" height="30.5" fill="#089981"/>
<rect x="1110.92" y="189.2" width="4" height="23.9" fill="#089981"/>
<rect x="1118.08" y="175.9" width="1.4" height="16.6" fill="#089981"/>
<rect x="1116.78" y="185.0" width="4" height="3.8" fill="#089981"/>
<line x1="81.6" y1="720.2" x2="1481" y2="314.9" stroke="#089981" stroke-width="2.7" stroke-linecap="round"/>
<line x1="884.2" y1="108.5" x2="1481" y2="268.9" stroke="#f0173c" stroke-width="2.8" stroke-linecap="round"/>
<line x1="515.7" y1="594.7" x2="1253.1" y2="207.1" stroke="#43a843" stroke-width="2.7" stroke-dasharray="12.8 16.6"/>
</g>
<g clip-path="url(#cr)">
<rect x="15" y="847.4" width="1465" height="88.2" fill="#7e57c2" fill-opacity="0.1"/>
<clipPath id="cob"><rect x="15" y="791.5" width="1465" height="55.9"/></clipPath>
<clipPath id="cos"><rect x="15" y="935.6" width="1465" height="21.4"/></clipPath>
<path d="M11.6,917.2 L17.5,924.8 L23.3,926.7 L29.2,924.6 L35.0,910.2 L40.9,922.0 L46.8,917.5 L52.6,916.9 L58.5,918.6 L64.3,939.0 L70.2,941.0 L76.1,946.5 L81.9,914.8 L87.8,926.6 L93.6,920.5 L99.5,909.9 L105.3,914.4 L111.2,910.4 L117.1,913.9 L122.9,914.9 L128.8,912.2 L134.6,912.5 L140.5,909.3 L146.4,912.2 L152.2,912.3 L158.1,884.6 L163.9,879.5 L169.8,884.2 L175.6,881.8 L181.5,876.9 L187.4,881.8 L193.2,880.6 L199.1,880.2 L204.9,881.5 L210.8,873.6 L216.6,872.4 L222.5,875.4 L228.4,882.5 L234.2,880.6 L240.1,880.1 L245.9,881.1 L251.8,830.4 L257.7,822.7 L263.5,813.1 L269.4,826.2 L275.2,829.9 L281.1,821.7 L286.9,833.2 L292.8,842.4 L298.7,844.6 L304.5,854.3 L310.4,852.4 L316.2,849.8 L322.1,850.3 L327.9,848.6 L333.8,839.8 L339.7,863.3 L345.5,862.5 L351.4,860.8 L357.2,859.4 L363.1,850.6 L369.0,848.5 L374.8,859.0 L380.7,875.7 L386.5,876.0 L392.4,874.7 L398.2,866.4 L404.1,868.7 L410.0,867.2 L415.8,898.9 L421.7,890.2 L427.5,883.6 L433.4,884.8 L439.3,865.2 L445.1,852.6 L451.0,860.4 L456.8,878.4 L462.7,886.3 L468.5,892.5 L474.4,890.6 L480.3,890.3 L486.1,895.6 L492.0,893.7 L497.8,893.7 L503.7,909.9 L509.5,922.0 L515.4,928.6 L521.3,900.6 L527.1,895.5 L533.0,898.8 L538.8,899.3 L544.7,898.0 L550.6,896.8 L556.4,886.8 L562.3,888.7 L568.1,902.0 L574.0,878.4 L579.8,875.6 L585.7,887.9 L591.6,886.9 L597.4,880.0 L603.3,884.4 L609.1,874.7 L615.0,858.1 L620.8,844.0 L626.7,843.4 L632.6,846.1 L638.4,844.1 L644.3,840.9 L650.1,832.8 L656.0,821.3 L661.9,817.5 L667.7,815.1 L673.6,813.6 L679.4,809.0 L685.3,808.6 L691.1,813.3 L697.0,834.3 L702.9,830.4 L708.7,829.8 L714.6,828.5 L720.4,822.5 L726.3,836.0 L732.2,836.0 L738.0,835.2 L743.9,856.1 L749.7,883.2 L755.6,893.5 L761.4,883.5 L767.3,865.2 L773.2,877.1 L779.0,871.3 L784.9,857.0 L790.7,851.5 L796.6,840.2 L802.4,841.4 L808.3,844.5 L814.2,830.5 L820.0,825.9 L825.9,845.6 L831.7,855.4 L837.6,856.8 L843.5,854.5 L849.3,868.8 L855.2,887.3 L861.0,872.7 L866.9,880.1 L872.7,854.5 L878.6,857.8 L884.5,857.7 L890.3,882.8 L896.2,873.3 L902.0,878.4 L907.9,878.2 L913.7,887.2 L919.6,886.5 L925.5,885.6 L931.3,890.3 L937.2,889.6 L943.0,881.5 L948.9,892.2 L954.8,891.6 L960.6,893.8 L966.5,891.6 L972.3,890.8 L978.2,890.6 L984.0,887.9 L989.9,878.0 L995.8,860.5 L1001.6,865.0 L1007.5,871.4 L1013.3,879.9 L1019.2,882.2 L1025.1,874.9 L1030.9,874.9 L1036.8,887.1 L1042.6,886.9 L1048.5,890.5 L1054.3,913.1 L1060.2,915.5 L1066.1,916.6 L1071.9,935.1 L1077.8,917.1 L1083.6,917.9 L1089.5,905.3 L1095.3,898.1 L1101.2,903.8 L1107.1,885.9 L1112.9,875.4 L1118.8,873.7 L1118.8,847.4 L11.6,847.4 Z" fill="url(#gob)" clip-path="url(#cob)"/>
<path d="M11.6,917.2 L17.5,924.8 L23.3,926.7 L29.2,924.6 L35.0,910.2 L40.9,922.0 L46.8,917.5 L52.6,916.9 L58.5,918.6 L64.3,939.0 L70.2,941.0 L76.1,946.5 L81.9,914.8 L87.8,926.6 L93.6,920.5 L99.5,909.9 L105.3,914.4 L111.2,910.4 L117.1,913.9 L122.9,914.9 L128.8,912.2 L134.6,912.5 L140.5,909.3 L146.4,912.2 L152.2,912.3 L158.1,884.6 L163.9,879.5 L169.8,884.2 L175.6,881.8 L181.5,876.9 L187.4,881.8 L193.2,880.6 L199.1,880.2 L204.9,881.5 L210.8,873.6 L216.6,872.4 L222.5,875.4 L228.4,882.5 L234.2,880.6 L240.1,880.1 L245.9,881.1 L251.8,830.4 L257.7,822.7 L263.5,813.1 L269.4,826.2 L275.2,829.9 L281.1,821.7 L286.9,833.2 L292.8,842.4 L298.7,844.6 L304.5,854.3 L310.4,852.4 L316.2,849.8 L322.1,850.3 L327.9,848.6 L333.8,839.8 L339.7,863.3 L345.5,862.5 L351.4,860.8 L357.2,859.4 L363.1,850.6 L369.0,848.5 L374.8,859.0 L380.7,875.7 L386.5,876.0 L392.4,874.7 L398.2,866.4 L404.1,868.7 L410.0,867.2 L415.8,898.9 L421.7,890.2 L427.5,883.6 L433.4,884.8 L439.3,865.2 L445.1,852.6 L451.0,860.4 L456.8,878.4 L462.7,886.3 L468.5,892.5 L474.4,890.6 L480.3,890.3 L486.1,895.6 L492.0,893.7 L497.8,893.7 L503.7,909.9 L509.5,922.0 L515.4,928.6 L521.3,900.6 L527.1,895.5 L533.0,898.8 L538.8,899.3 L544.7,898.0 L550.6,896.8 L556.4,886.8 L562.3,888.7 L568.1,902.0 L574.0,878.4 L579.8,875.6 L585.7,887.9 L591.6,886.9 L597.4,880.0 L603.3,884.4 L609.1,874.7 L615.0,858.1 L620.8,844.0 L626.7,843.4 L632.6,846.1 L638.4,844.1 L644.3,840.9 L650.1,832.8 L656.0,821.3 L661.9,817.5 L667.7,815.1 L673.6,813.6 L679.4,809.0 L685.3,808.6 L691.1,813.3 L697.0,834.3 L702.9,830.4 L708.7,829.8 L714.6,828.5 L720.4,822.5 L726.3,836.0 L732.2,836.0 L738.0,835.2 L743.9,856.1 L749.7,883.2 L755.6,893.5 L761.4,883.5 L767.3,865.2 L773.2,877.1 L779.0,871.3 L784.9,857.0 L790.7,851.5 L796.6,840.2 L802.4,841.4 L808.3,844.5 L814.2,830.5 L820.0,825.9 L825.9,845.6 L831.7,855.4 L837.6,856.8 L843.5,854.5 L849.3,868.8 L855.2,887.3 L861.0,872.7 L866.9,880.1 L872.7,854.5 L878.6,857.8 L884.5,857.7 L890.3,882.8 L896.2,873.3 L902.0,878.4 L907.9,878.2 L913.7,887.2 L919.6,886.5 L925.5,885.6 L931.3,890.3 L937.2,889.6 L943.0,881.5 L948.9,892.2 L954.8,891.6 L960.6,893.8 L966.5,891.6 L972.3,890.8 L978.2,890.6 L984.0,887.9 L989.9,878.0 L995.8,860.5 L1001.6,865.0 L1007.5,871.4 L1013.3,879.9 L1019.2,882.2 L1025.1,874.9 L1030.9,874.9 L1036.8,887.1 L1042.6,886.9 L1048.5,890.5 L1054.3,913.1 L1060.2,915.5 L1066.1,916.6 L1071.9,935.1 L1077.8,917.1 L1083.6,917.9 L1089.5,905.3 L1095.3,898.1 L1101.2,903.8 L1107.1,885.9 L1112.9,875.4 L1118.8,873.7 L1118.8,935.6 L11.6,935.6 Z" fill="url(#gos)" clip-path="url(#cos)"/>
<line x1="15" y1="847.35" x2="1480" y2="847.35" stroke="#787b86" stroke-width="1" stroke-dasharray="6.6 8.05"/>
<line x1="15" y1="891.45" x2="1480" y2="891.45" stroke="#787b86" stroke-opacity="0.5" stroke-width="1" stroke-dasharray="6.6 8.05"/>
<line x1="15" y1="935.55" x2="1480" y2="935.55" stroke="#787b86" stroke-width="1" stroke-dasharray="6.6 8.05"/>
<path d="M11.6,912.4 L17.5,911.2 L23.3,911.8 L29.2,912.2 L35.0,911.8 L40.9,912.3 L46.8,912.6 L52.6,913.0 L58.5,913.6 L64.3,915.7 L70.2,918.2 L76.1,921.1 L81.9,921.9 L87.8,923.6 L93.6,925.0 L99.5,923.9 L105.3,923.0 L111.2,922.0 L117.1,922.3 L122.9,921.8 L128.8,921.4 L134.6,921.1 L140.5,920.4 L146.4,918.5 L152.2,916.4 L158.1,912.0 L163.9,909.5 L169.8,906.5 L175.6,903.7 L181.5,901.3 L187.4,899.0 L193.2,896.9 L199.1,894.5 L204.9,892.1 L210.8,889.4 L216.6,886.5 L222.5,884.1 L228.4,881.9 L234.2,879.7 L240.1,879.4 L245.9,879.5 L251.8,875.6 L257.7,871.4 L263.5,866.9 L269.4,862.9 L275.2,859.3 L281.1,855.1 L286.9,851.6 L292.8,849.4 L298.7,847.4 L304.5,845.9 L310.4,843.8 L316.2,841.6 L322.1,839.4 L327.9,837.1 L333.8,837.8 L339.7,840.7 L345.5,844.2 L351.4,846.7 L357.2,848.8 L363.1,850.9 L369.0,852.0 L374.8,853.1 L380.7,855.4 L386.5,856.9 L392.4,858.5 L398.2,859.7 L404.1,861.0 L410.0,862.3 L415.8,866.6 L421.7,868.5 L427.5,870.0 L433.4,871.7 L439.3,872.1 L445.1,872.3 L451.0,873.1 L456.8,874.5 L462.7,875.3 L468.5,876.4 L474.4,877.6 L480.3,879.3 L486.1,881.2 L492.0,883.1 L497.8,882.7 L503.7,884.1 L509.5,886.9 L515.4,890.0 L521.3,892.5 L527.1,895.6 L533.0,898.3 L538.8,899.8 L544.7,900.7 L550.6,901.0 L556.4,900.7 L562.3,900.6 L568.1,901.0 L574.0,899.9 L579.8,898.6 L585.7,897.1 L591.6,894.6 L597.4,891.1 L603.3,889.9 L609.1,888.4 L615.0,885.5 L620.8,881.6 L626.7,877.7 L632.6,874.1 L638.4,871.0 L644.3,867.6 L650.1,862.7 L656.0,858.6 L661.9,854.4 L667.7,849.2 L673.6,844.0 L679.4,838.9 L685.3,833.5 L691.1,829.1 L697.0,827.4 L702.9,826.5 L708.7,825.5 L714.6,824.2 L720.4,822.7 L726.3,822.3 L732.2,822.6 L738.0,823.6 L743.9,826.3 L749.7,831.2 L755.6,836.9 L761.4,842.2 L767.3,846.3 L773.2,850.8 L779.0,853.4 L784.9,855.4 L790.7,856.9 L796.6,857.7 L802.4,859.1 L808.3,859.7 L814.2,859.3 L820.0,858.6 L825.9,857.9 L831.7,855.9 L837.6,853.3 L843.5,851.2 L849.3,851.5 L855.2,852.2 L861.0,852.3 L866.9,853.9 L872.7,854.2 L878.6,855.4 L884.5,856.6 L890.3,859.3 L896.2,862.4 L902.0,866.1 L907.9,868.5 L913.7,870.7 L919.6,872.8 L925.5,875.1 L931.3,876.6 L937.2,876.8 L943.0,877.4 L948.9,878.3 L954.8,880.9 L960.6,883.5 L966.5,885.9 L972.3,886.5 L978.2,887.7 L984.0,888.4 L989.9,888.4 L995.8,886.5 L1001.6,884.9 L1007.5,883.9 L1013.3,883.2 L1019.2,882.6 L1025.1,882.2 L1030.9,881.0 L1036.8,880.6 L1042.6,880.1 L1048.5,880.1 L1054.3,881.6 L1060.2,883.4 L1066.1,885.5 L1071.9,889.6 L1077.8,893.6 L1083.6,897.4 L1089.5,899.8 L1095.3,901.1 L1101.2,902.6 L1107.1,903.4 L1112.9,903.5 L1118.8,902.5" fill="none" stroke="#fdd835" stroke-width="1.3" stroke-linejoin="round"/>
<path d="M11.6,917.2 L17.5,924.8 L23.3,926.7 L29.2,924.6 L35.0,910.2 L40.9,922.0 L46.8,917.5 L52.6,916.9 L58.5,918.6 L64.3,939.0 L70.2,941.0 L76.1,946.5 L81.9,914.8 L87.8,926.6 L93.6,920.5 L99.5,909.9 L105.3,914.4 L111.2,910.4 L117.1,913.9 L122.9,914.9 L128.8,912.2 L134.6,912.5 L140.5,909.3 L146.4,912.2 L152.2,912.3 L158.1,884.6 L163.9,879.5 L169.8,884.2 L175.6,881.8 L181.5,876.9 L187.4,881.8 L193.2,880.6 L199.1,880.2 L204.9,881.5 L210.8,873.6 L216.6,872.4 L222.5,875.4 L228.4,882.5 L234.2,880.6 L240.1,880.1 L245.9,881.1 L251.8,830.4 L257.7,822.7 L263.5,813.1 L269.4,826.2 L275.2,829.9 L281.1,821.7 L286.9,833.2 L292.8,842.4 L298.7,844.6 L304.5,854.3 L310.4,852.4 L316.2,849.8 L322.1,850.3 L327.9,848.6 L333.8,839.8 L339.7,863.3 L345.5,862.5 L351.4,860.8 L357.2,859.4 L363.1,850.6 L369.0,848.5 L374.8,859.0 L380.7,875.7 L386.5,876.0 L392.4,874.7 L398.2,866.4 L404.1,868.7 L410.0,867.2 L415.8,898.9 L421.7,890.2 L427.5,883.6 L433.4,884.8 L439.3,865.2 L445.1,852.6 L451.0,860.4 L456.8,878.4 L462.7,886.3 L468.5,892.5 L474.4,890.6 L480.3,890.3 L486.1,895.6 L492.0,893.7 L497.8,893.7 L503.7,909.9 L509.5,922.0 L515.4,928.6 L521.3,900.6 L527.1,895.5 L533.0,898.8 L538.8,899.3 L544.7,898.0 L550.6,896.8 L556.4,886.8 L562.3,888.7 L568.1,902.0 L574.0,878.4 L579.8,875.6 L585.7,887.9 L591.6,886.9 L597.4,880.0 L603.3,884.4 L609.1,874.7 L615.0,858.1 L620.8,844.0 L626.7,843.4 L632.6,846.1 L638.4,844.1 L644.3,840.9 L650.1,832.8 L656.0,821.3 L661.9,817.5 L667.7,815.1 L673.6,813.6 L679.4,809.0 L685.3,808.6 L691.1,813.3 L697.0,834.3 L702.9,830.4 L708.7,829.8 L714.6,828.5 L720.4,822.5 L726.3,836.0 L732.2,836.0 L738.0,835.2 L743.9,856.1 L749.7,883.2 L755.6,893.5 L761.4,883.5 L767.3,865.2 L773.2,877.1 L779.0,871.3 L784.9,857.0 L790.7,851.5 L796.6,840.2 L802.4,841.4 L808.3,844.5 L814.2,830.5 L820.0,825.9 L825.9,845.6 L831.7,855.4 L837.6,856.8 L843.5,854.5 L849.3,868.8 L855.2,887.3 L861.0,872.7 L866.9,880.1 L872.7,854.5 L878.6,857.8 L884.5,857.7 L890.3,882.8 L896.2,873.3 L902.0,878.4 L907.9,878.2 L913.7,887.2 L919.6,886.5 L925.5,885.6 L931.3,890.3 L937.2,889.6 L943.0,881.5 L948.9,892.2 L954.8,891.6 L960.6,893.8 L966.5,891.6 L972.3,890.8 L978.2,890.6 L984.0,887.9 L989.9,878.0 L995.8,860.5 L1001.6,865.0 L1007.5,871.4 L1013.3,879.9 L1019.2,882.2 L1025.1,874.9 L1030.9,874.9 L1036.8,887.1 L1042.6,886.9 L1048.5,890.5 L1054.3,913.1 L1060.2,915.5 L1066.1,916.6 L1071.9,935.1 L1077.8,917.1 L1083.6,917.9 L1089.5,905.3 L1095.3,898.1 L1101.2,903.8 L1107.1,885.9 L1112.9,875.4 L1118.8,873.7" fill="none" stroke="#7e57c2" stroke-width="1.35" stroke-linejoin="round"/>
</g>
<g font-family='"Liberation Sans", sans-serif'>
<text x="15.6" y="29.1" font-size="17.5" fill="#131722" textLength="600.0" lengthAdjust="spacingAndGlyphs">ChartAnalysis_4 created with TradingView.com, Oct 03, 2025 04:17 UTC</text>
<text x="27.2" y="68.2" font-size="16.4" fill="#131722" textLength="309.5" lengthAdjust="spacingAndGlyphs">Ethereum / U.S. Dollar · 1D · Coinbase</text>
<text x="348.7" y="68.2" font-size="16" fill="#131722">O</text>
<text x="361.8" y="68.2" font-size="16" fill="#089981" textLength="72.4" lengthAdjust="spacingAndGlyphs">4,487.30</text>
<text x="445.0" y="68.2" font-size="16" fill="#131722">H</text>
<text x="458.0" y="68.2" font-size="16" fill="#089981" textLength="74.4" lengthAdjust="spacingAndGlyphs">4,563.48</text>
<text x="544.5" y="68.2" font-size="16" fill="#131722">L</text>
<text x="553.8" y="68.2" font-size="16" fill="#089981" textLength="73.2" lengthAdjust="spacingAndGlyphs">4,465.24</text>
<text x="638.8" y="68.2" font-size="16" fill="#131722">C</text>
<text x="651.2" y="68.2" font-size="16" fill="#089981" textLength="73.2" lengthAdjust="spacingAndGlyphs">4,509.54</text>
<text x="736.2" y="68.2" font-size="16" fill="#089981" textLength="140.0" lengthAdjust="spacingAndGlyphs">+22.05 (+0.49%)</text>
<text x="27.2" y="93.1" font-size="16" fill="#131722" textLength="164.0" lengthAdjust="spacingAndGlyphs">EMA 20/50/100/200</text>
<text x="203.2" y="93.1" font-size="16" fill="#ff0000" textLength="69.8" lengthAdjust="spacingAndGlyphs">4,307.87</text>
<text x="284.2" y="93.1" font-size="16" fill="#ff7f00" textLength="72.0" lengthAdjust="spacingAndGlyphs">4,238.78</text>
<text x="368.2" y="93.1" font-size="16" fill="#00ffff" textLength="72.4" lengthAdjust="spacingAndGlyphs">3,906.22</text>
<text x="451.8" y="93.1" font-size="16" fill="#0000ff" textLength="71.2" lengthAdjust="spacingAndGlyphs">3,456.19</text>
<text x="1494.0" y="73.1" font-size="18" fill="#131722" textLength="75.5" lengthAdjust="spacingAndGlyphs">5,200.00</text>
<text x="1494.0" y="141.0" font-size="18" fill="#131722" textLength="75.5" lengthAdjust="spacingAndGlyphs">4,800.00</text>
<text x="1494.0" y="276.7" font-size="18" fill="#131722" textLength="75.5" lengthAdjust="spacingAndGlyphs">4,000.00</text>
<text x="1494.0" y="344.5" font-size="18" fill="#131722" textLength="75.5" lengthAdjust="spacingAndGlyphs">3,600.00</text>
<text x="1494.0" y="412.4" font-size="18" fill="#131722" textLength="75.5" lengthAdjust="spacingAndGlyphs">3,200.00</text>
<text x="1494.0" y="480.3" font-size="18" fill="#131722" textLength="75.5" lengthAdjust="spacingAndGlyphs">2,800.00</text>
<text x="1494.0" y="548.1" font-size="18" fill="#131722" textLength="75.5" lengthAdjust="spacingAndGlyphs">2,400.00</text>
<text x="1494.0" y="616.0" font-size="18" fill="#131722" textLength="75.5" lengthAdjust="spacingAndGlyphs">2,000.00</text>
<text x="1494.0" y="683.8" font-size="18" fill="#131722" textLength="75.5" lengthAdjust="spacingAndGlyphs">1,600.00</text>
<text x="1494.0" y="751.7" font-size="18" fill="#131722" textLength="75.5" lengthAdjust="spacingAndGlyphs">1,200.00</text>
<text x="1494.0" y="830.5" font-size="18" fill="#131722" textLength="48.0" lengthAdjust="spacingAndGlyphs">80.00</text>
<text x="1494.0" y="918.7" font-size="18" fill="#131722" textLength="48.0" lengthAdjust="spacingAndGlyphs">40.00</text>
<clipPath id="c20"><rect x="1480" y="940" width="110" height="21.7"/></clipPath>
<g clip-path="url(#c20)"><text x="1494.0" y="962.8" font-size="18" fill="#131722" textLength="48.0" lengthAdjust="spacingAndGlyphs">20.00</text></g>
<path d="M1481,173 H1575.5 Q1578.5,173 1578.5,176 V215.4 Q1578.5,218.4 1575.5,218.4 H1481 Z" fill="#089981"/>
<text x="1494.5" y="190.4" font-size="18" fill="#ffffff" textLength="75.7" lengthAdjust="spacingAndGlyphs">4,509.54</text>
<text x="1496.3" y="210.8" font-size="18" fill="#ffffff" fill-opacity="0.8" textLength="73.9" lengthAdjust="spacingAndGlyphs">19:42:48</text>
<path d="M1481,219.0 H1575.5 Q1578.5,219.0 1578.5,222.0 V239.9 Q1578.5,242.9 1575.5,242.9 H1481 Z" fill="#ff0000"/>
<text x="1494.5" y="235.7" font-size="18" fill="#ffffff" textLength="75.6" lengthAdjust="spacingAndGlyphs">4,307.87</text>
<path d="M1481,243.4 H1575.5 Q1578.5,243.4 1578.5,246.4 V265.0 Q1578.5,268.0 1575.5,268.0 H1481 Z" fill="#ff7b00"/>
<text x="1494.5" y="260.7" font-size="18" fill="#ffffff" textLength="75.6" lengthAdjust="spacingAndGlyphs">4,238.78</text>
<path d="M1481,275.1 H1575.5 Q1578.5,275.1 1578.5,278.1 V296.9 Q1578.5,299.9 1575.5,299.9 H1481 Z" fill="#00ffff"/>
<text x="1494.5" y="292.3" font-size="18" fill="#000000" textLength="75.6" lengthAdjust="spacingAndGlyphs">3,906.22</text>
<path d="M1481,351.4 H1575.5 Q1578.5,351.4 1578.5,354.4 V373.1 Q1578.5,376.1 1575.5,376.1 H1481 Z" fill="#0000ff"/>
<text x="1494.8" y="368.9" font-size="18" fill="#ffffff" textLength="75.7" lengthAdjust="spacingAndGlyphs">3,456.19</text>
<path d="M1481,861.8 H1547.3 Q1550.3,861.8 1550.3,864.8 V883.8 Q1550.3,886.8 1547.3,886.8 H1481 Z" fill="#7e57c2"/>
<text x="1495.0" y="880.7" font-size="18" fill="#ffffff" textLength="47.9" lengthAdjust="spacingAndGlyphs">57.86</text>
<path d="M1481,890.1 H1547.3 Q1550.3,890.1 1550.3,893.1 V911.8 Q1550.3,914.8 1547.3,914.8 H1481 Z" fill="#fdd835"/>
<text x="1495.0" y="909.0" font-size="18" fill="#000000" textLength="47.9" lengthAdjust="spacingAndGlyphs">45.11</text>
<text x="27.6" y="820.6" font-size="16" fill="#131722" textLength="116.4" lengthAdjust="spacingAndGlyphs">RSI (14, close)</text>
<text x="156.4" y="820.6" font-size="16" fill="#7e57c2" textLength="44.6" lengthAdjust="spacingAndGlyphs">57.86</text>
<text x="213.0" y="820.6" font-size="16" fill="#f9c80e" textLength="40.6" lengthAdjust="spacingAndGlyphs">45.11</text>
<text x="20.0" y="990.8" font-size="17" fill="#131722" font-weight="bold" textLength="30.8" lengthAdjust="spacingAndGlyphs">Apr</text>
<text x="193.8" y="990.8" font-size="17" fill="#131722" font-weight="bold" textLength="34.5" lengthAdjust="spacingAndGlyphs">May</text>
<text x="376.9" y="990.8" font-size="17" fill="#131722" font-weight="bold" textLength="31.1" lengthAdjust="spacingAndGlyphs">Jun</text>
<text x="555.0" y="990.8" font-size="17" fill="#131722" font-weight="bold" textLength="26.2" lengthAdjust="spacingAndGlyphs">Jul</text>
<text x="733.1" y="990.8" font-size="17" fill="#131722" font-weight="bold" textLength="33.0" lengthAdjust="spacingAndGlyphs">Aug</text>
<text x="915.0" y="990.8" font-size="17" fill="#131722" font-weight="bold" textLength="32.6" lengthAdjust="spacingAndGlyphs">Sep</text>
<text x="1091.8" y="990.8" font-size="17" fill="#131722" font-weight="bold" textLength="30.5" lengthAdjust="spacingAndGlyphs">Oct</text>
<text x="1272.0" y="990.8" font-size="17" fill="#131722" font-weight="bold" textLength="33.0" lengthAdjust="spacingAndGlyphs">Nov</text>
<text x="1447.8" y="990.8" font-size="17" fill="#131722" font-weight="bold" textLength="32.2" lengthAdjust="spacingAndGlyphs">Dec</text>
<g fill="#111111"><path d="M17.9,1036.1 H34.9 V1058 H26.5 V1044.9 H17.9 Z"/><circle cx="42.6" cy="1040.4" r="4.3"/><path d="M51.6,1036.1 H61.4 L52.9,1058 H43 Z"/></g>
<text x="72.1" y="1058.0" font-size="31.5" fill="#111111" font-weight="bold" textLength="177.0" lengthAdjust="spacingAndGlyphs">TradingView</text>
</g>
<g>
<circle cx="1119.6" cy="734.6" r="13.9" fill="none" stroke="#9c27b0" stroke-width="1.8" stroke-dasharray="37.94 13.10 22.10 14.19" transform="rotate(-16 1119.6 734.6)"/>
<circle cx="1129" cy="724.4" r="3.6" fill="#f23645"/>
<path d="M1103.5,732.6 Q1104.5,739 1110.9,740 Q1104.5,741 1103.5,747.4 Q1102.5,741 1096.1,740 Q1102.5,739 1103.5,732.6 Z" fill="#7c4dff"/>
<path d="M1122.5,727.0 L1123.6,728.4 L1119.6,733.5 L1125.1,734.2 L1115.2,742.6 L1113.9,741.6 L1118.3,735.9 L1112.6,735.6 Z" fill="#9510ac"/>
<clipPath id="fl1118"><circle cx="1118.9" cy="771.1" r="11.7"/></clipPath>
<circle cx="1118.9" cy="771.1" r="14.2" fill="#ffffff" stroke="#f0173c" stroke-width="2"/>
<g clip-path="url(#fl1118)">
<rect x="1106.9" y="759.4" width="24" height="4.9" fill="#ef5350"/>
<rect x="1106.9" y="764.1" width="24" height="4.9" fill="#ffffff"/>
<rect x="1106.9" y="768.8" width="24" height="4.9" fill="#ef5350"/>
<rect x="1106.9" y="773.4" width="24" height="4.9" fill="#ffffff"/>
<rect x="1106.9" y="778.1" width="24" height="4.9" fill="#ef5350"/>
<rect x="1106.9" y="759.4" width="14.3" height="14.0" fill="#1e88e5"/>
<circle cx="1110.1" cy="766.4" r="1" fill="#ffffff"/>
<circle cx="1110.1" cy="770.3" r="1" fill="#ffffff"/>
<circle cx="1114.2" cy="762.5" r="1" fill="#ffffff"/>
<circle cx="1114.2" cy="766.4" r="1" fill="#ffffff"/>
<circle cx="1114.2" cy="770.3" r="1" fill="#ffffff"/>
<circle cx="1118.3" cy="762.5" r="1" fill="#ffffff"/>
<circle cx="1118.3" cy="766.4" r="1" fill="#ffffff"/>
<circle cx="1118.3" cy="770.3" r="1" fill="#ffffff"/>
</g>
<clipPath id="fl1148"><circle cx="1148.5" cy="771.1" r="11.7"/></clipPath>
<circle cx="1148.5" cy="771.1" r="14.2" fill="#ffffff" stroke="#f0173c" stroke-width="2"/>
<g clip-path="url(#fl1148)">
<rect x="1136.5" y="759.4" width="24" height="4.9" fill="#ef5350"/>
<rect x="1136.5" y="764.1" width="24" height="4.9" fill="#ffffff"/>
<rect x="1136.5" y="768.8" width="24" height="4.9" fill="#ef5350"/>
<rect x="1136.5" y="773.4" width="24" height="4.9" fill="#ffffff"/>
<rect x="1136.5" y="778.1" width="24" height="4.9" fill="#ef5350"/>
<rect x="1136.5" y="759.4" width="14.3" height="14.0" fill="#1e88e5"/>
<circle cx="1139.7" cy="766.4" r="1" fill="#ffffff"/>
<circle cx="1139.7" cy="770.3" r="1" fill="#ffffff"/>
<circle cx="1143.8" cy="762.5" r="1" fill="#ffffff"/>
<circle cx="1143.8" cy="766.4" r="1" fill="#ffffff"/>
<circle cx="1143.8" cy="770.3" r="1" fill="#ffffff"/>
<circle cx="1147.9" cy="762.5" r="1" fill="#ffffff"/>
<circle cx="1147.9" cy="766.4" r="1" fill="#ffffff"/>
<circle cx="1147.9" cy="770.3" r="1" fill="#ffffff"/>
</g>
</g>
</svg>
</body></html>
